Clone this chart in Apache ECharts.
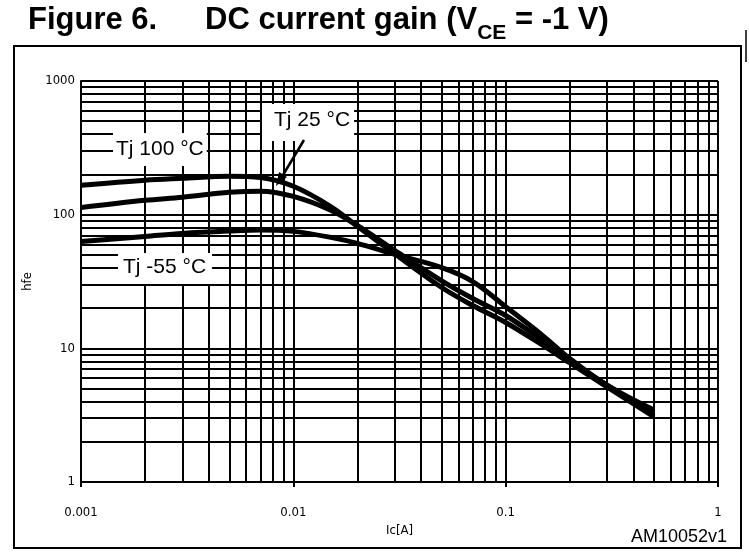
<!DOCTYPE html>
<html><head><meta charset="utf-8">
<script src="https://cdn.jsdelivr.net/npm/echarts@6/dist/echarts.min.js"></script>
<style>html,body{margin:0;padding:0;background:#fff}#c{width:749px;height:560px}</style>
</head><body><div id="c"></div>
<script>
// ---- data ----
const ic = [0.001, 0.002, 0.003, 0.005, 0.007, 0.01, 0.015, 0.02, 0.03, 0.05, 0.07, 0.1, 0.15, 0.2, 0.3, 0.5];
const hfe100 = [166, 181, 187, 194, 190, 163, 115, 82, 51, 28.5, 20.9, 15.6, 10.5, 7.8, 5.15, 3.07];
const hfe25  = [113, 128, 135, 147, 150, 137, 108, 83, 54, 32, 23.6, 17.6, 11.4, 8.1, 5.3, 3.29];
const hfeM55 = [63, 68.7, 72.4, 75.5, 76.9, 75, 67.6, 61, 50.4, 40.2, 31.6, 20.5, 12.4, 8.4, 5.3, 3.45];
const xTicks = [0.001, 0.01, 0.1, 1];
const yTicks = [1, 10, 100, 1000];
const minorMult = [2, 3, 4, 5, 6, 7, 8, 9];

const pair = a => ic.map((x, i) => [x, a[i]]);
const xMinor = [], yMinor = [];
xTicks.slice(0, -1).forEach(d => minorMult.forEach(m => xMinor.push(+(d * m).toPrecision(3))));
yTicks.slice(0, -1).forEach(d => minorMult.forEach(m => yMinor.push(d * m)));

const narrow = "'Liberation Sans Narrow', 'DejaVu Sans Condensed', sans-serif";
const gridStyle = { color: '#000', width: 2, type: 'solid' };
const curve = (name, data) => ({
  name, type: 'line', data: pair(data), smooth: 0.35, showSymbol: false, z: 5,
  lineStyle: { color: '#000', width: 5 }
});

const chart = echarts.init(document.getElementById('c'), null, { renderer: 'canvas' });
chart.setOption({
  animation: false,
  backgroundColor: '#fff',
  grid: { left: 81, right: 31, top: 81, bottom: 78 },
  xAxis: {
    type: 'log', logBase: 10, min: 0.001, max: 1,
    name: 'Ic[A]', nameLocation: 'middle', nameGap: 34,
    nameTextStyle: { fontFamily: narrow, fontSize: 13, color: '#000' },
    axisLine: { show: true, lineStyle: { color: '#000', width: 2 } },
    axisTick: { show: true, length: 5, inside: false, lineStyle: { color: '#000', width: 2 } },
    axisLabel: { margin: 24, fontFamily: narrow, fontSize: 13, color: '#000',
      formatter: v => String(xTicks.find(t => Math.abs(t - v) / t < 1e-6) ?? v) },
    splitLine: { show: true, lineStyle: gridStyle }
  },
  yAxis: {
    type: 'log', logBase: 10, min: 1, max: 1000,
    name: 'hfe', nameLocation: 'middle', nameGap: 30, nameRotate: 90,
    nameTextStyle: { fontFamily: narrow, fontSize: 13, color: '#000' },
    axisLine: { show: true, lineStyle: { color: '#000', width: 2 } },
    axisTick: { show: false },
    axisLabel: { margin: 6, fontFamily: narrow, fontSize: 13, color: '#000',
      formatter: v => String(Math.round(v)) },
    splitLine: { show: true, lineStyle: gridStyle }
  },
  series: [
    {
      type: 'line', data: [], z: 1, silent: true,
      markLine: {
        silent: true, symbol: 'none', animation: false, precision: 8,
        label: { show: false },
        lineStyle: gridStyle,
        data: xMinor.map(v => ({ xAxis: v })).concat(yMinor.map(v => ({ yAxis: v })))
      }
    },
    curve('Tj 100 °C', hfe100),
    curve('Tj 25 °C', hfe25),
    curve('Tj -55 °C', hfeM55)
  ],
  graphic: [
    { type: 'rect', shape: { x: 14, y: 46, width: 727, height: 502 }, style: { fill: 'none', stroke: '#000', lineWidth: 2 }, z: 100 },
    { type: 'line', shape: { x1: 746, y1: 30, x2: 746, y2: 62 }, style: { stroke: '#000', lineWidth: 1.5 }, z: 100 },
    { type: 'text', left: 28, top: 5, z: 100,
      style: { text: 'Figure 6.', font: "bold 31px 'Liberation Sans', Arial, sans-serif", fill: '#000' } },
    { type: 'text', left: 205, top: 5, z: 100,
      style: {
        text: '{a|DC current gain (V}{s|CE}{a| = -1 V)}',
        rich: {
          a: { fontSize: 31, fontWeight: 'bold', fontFamily: "'Liberation Sans', Arial, sans-serif", lineHeight: 46, verticalAlign: 'middle', fill: '#000' },
          s: { fontSize: 21, fontWeight: 'bold', fontFamily: "'Liberation Sans', Arial, sans-serif", lineHeight: 46, verticalAlign: 'bottom', fill: '#000' }
        }
      } },
    { type: 'text', right: 22, top: 528, z: 100,
      style: { text: 'AM10052v1', font: "18px 'Liberation Sans', Arial, sans-serif", fill: '#000' } },
    // curve labels
    { type: 'text', left: 113, top: 133, z: 50,
      style: { text: 'Tj 100 °C', font: "21px 'Liberation Sans', Arial, sans-serif", fill: '#000', backgroundColor: '#fff', padding: [6, 3, 6, 3] } },
    { type: 'text', left: 262, top: 104, z: 50,
      style: { text: 'Tj 25 °C', font: "21px 'Liberation Sans', Arial, sans-serif", fill: '#000', backgroundColor: '#fff', padding: [6, 4, 10, 12] } },
    { type: 'text', left: 118, top: 253, z: 50,
      style: { text: 'Tj -55 °C', font: "21px 'Liberation Sans', Arial, sans-serif", fill: '#000', backgroundColor: '#fff', padding: [4, 6, 6, 5] } },
    { type: 'line', shape: { x1: 304, y1: 140, x2: 280, y2: 180 }, style: { stroke: '#000', lineWidth: 2.5 }, z: 60 },
    { type: 'polygon', shape: { points: [[276, 186], [279, 172], [287, 177]] }, style: { fill: '#000' }, z: 60 }
  ]
});
</script></body></html>
